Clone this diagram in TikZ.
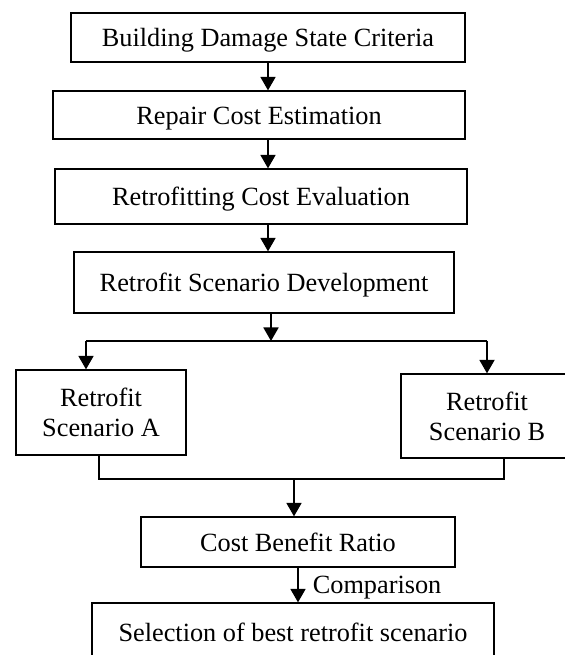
\documentclass[tikz,border=0pt]{standalone}
\usepackage{fontspec}
\setmainfont{Liberation Serif}
\usetikzlibrary{arrows.meta}

\begin{document}
\begin{tikzpicture}[
        box/.style={draw, line width=0.9pt, inner sep=0pt, align=center,
            font=\fontsize{18.7}{21.5}\selectfont},
        onebox/.style={box, text height=16pt, text depth=3pt},
        arr/.style={line width=1.2pt, -{Triangle[length=9.6pt, width=10.7pt]}},
        wire/.style={line width=1.2pt}
    ]
    \useasboundingbox (0, 0) rectangle (14.125, 16.375);

    \node[onebox, minimum width=9.85cm, minimum height=1.225cm] (crit) at (6.7, 15.4375) {Building Damage State Criteria};
    \node[onebox, minimum width=10.3cm, minimum height=1.2cm] (repair) at (6.475, 13.5) {Repair Cost Estimation};
    \node[onebox, minimum width=10.3cm, minimum height=1.375cm] (retro) at (6.525, 11.4625) {Retrofitting Cost Evaluation};
    \node[onebox, minimum width=9.5cm, minimum height=1.525cm] (dev) at (6.6, 9.3125) {Retrofit Scenario Development};
    \node[box, minimum width=4.25cm, minimum height=2.125cm] (scA) at (2.525, 6.0625) {Retrofit\\Scenario A};
    \node[box, minimum width=4.3cm, minimum height=2.1cm] (scB) at (12.175, 5.975) {Retrofit\\Scenario B};
    \node[onebox, minimum width=7.85cm, minimum height=1.25cm] (cbr) at (7.45, 2.825) {Cost Benefit Ratio};
    \node[box, minimum width=10.05cm, minimum height=1.45cm] (sel) at (7.325, 0.575) {Selection of best retrofit scenario};

    % split and merge points
    \coordinate (split) at (6.775, 7.85);
    \coordinate (splitL) at (2.15, 7.85);
    \coordinate (splitR) at (12.175, 7.85);
    \coordinate (mergeL) at (2.475, 4.4);
    \coordinate (mergeR) at (12.6, 4.4);
    \coordinate (merge) at (7.35, 4.4);

    \draw[arr] (crit.south) -- (crit.south |- repair.north);
    \draw[arr] (repair.south -| crit.south) -- (retro.north -| crit.south);
    \draw[arr] (retro.south -| crit.south) -- (dev.north -| crit.south);

    \draw[arr] (dev.south -| split) -- (split);
    \draw[wire] (splitL) -- (splitR);
    \draw[arr] (splitL) -- (splitL |- scA.north);
    \draw[arr] (splitR) -- (scB.north);

    \draw[wire] (scA.south -| mergeL) -- (mergeL) -- (mergeR) -- (scB.south -| mergeR);
    \draw[arr] (merge) -- (merge |- cbr.north);

    \draw[arr] (cbr.south) -- (cbr.south |- sel.north) node[pos=0.75, anchor=base west, xshift=0.35cm, inner sep=0pt,
        font=\fontsize{18.7}{21.5}\selectfont] (cmp) {Comparison};
\end{tikzpicture}
\end{document}
